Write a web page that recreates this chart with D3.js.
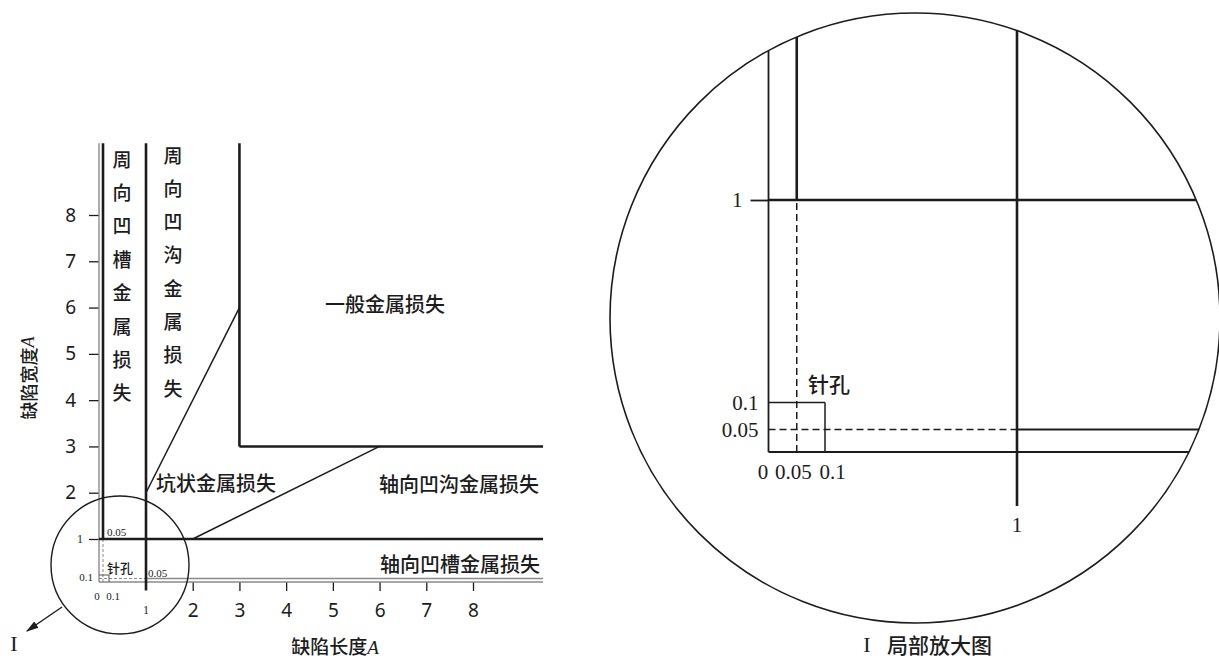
<!DOCTYPE html>
<html>
<head>
<meta charset="utf-8">
<script src="https://d3js.org/d3.v7.min.js"></script>
<style>
  body { margin: 0; background: #fff; }
  text { fill: #1c1c1c; }
  .cjk { font-family: "Noto Sans CJK SC", sans-serif; font-weight: 500; }
  .ser { font-family: "Liberation Serif", serif; }
  .sans { font-family: "Noto Sans", sans-serif; }
</style>
</head>
<body>
<svg id="vis" width="1219" height="660"></svg>
<script>
// defect size classes, lengths and widths in units of A
var xTicks = [2, 3, 4, 5, 6, 7, 8];
var yTicks = [1, 2, 3, 4, 5, 6, 7, 8];
var regionNames = ["周向凹槽金属损失", "周向凹沟金属损失", "一般金属损失",
                   "坑状金属损失", "轴向凹沟金属损失", "轴向凹槽金属损失"];
var pinName = "针孔";
var zoomTicksX = [0, 0.05, 0.1];
var zoomTicksY = [0.05, 0.1];

// boundary segments [x1, y1, x2, y2]; null = runs to the edge of the view
var heavyLines = [[0.05, 1, 0.05, null], [1, -0.12, 1, null], [0, 1, null, 1],
                  [3, 3, 3, null], [3, 3, null, 3]];
var slopeLines = [[1, 2, 3, 6], [2, 1, 6, 3]];
var axisLines = [[0, 0, 0, null], [0, 0, null, 0], [1, 0.05, null, 0.05]];
var dashLines = [[0.05, 0, 0.05, 1], [0, 0.05, 1, 0.05]];
var pinBox = [[0, 0.1, 0.1, 0.1], [0.1, 0, 0.1, 0.1]];

var svg = d3.select("#vis");

var defs = svg.append("defs");
defs.append("marker")
    .attr("id", "arrow")
    .attr("viewBox", "0 0 10 10")
    .attr("refX", 9).attr("refY", 5)
    .attr("markerWidth", 9).attr("markerHeight", 9)
    .attr("orient", "auto")
  .append("path")
    .attr("d", "M0,2 L10,5 L0,8 Z")
    .attr("fill", "#1c1c1c");

function drawSegs(g, segs, x, y, lim, stroke, width, dash) {
  g.selectAll(null)
    .data(segs)
    .enter().append("line")
      .attr("x1", d => x(d[0]))
      .attr("y1", d => y(d[1]))
      .attr("x2", d => x(d[2] == null ? lim[0] : d[2]))
      .attr("y2", d => y(d[3] == null ? lim[1] : d[3]))
      .attr("stroke", stroke)
      .attr("stroke-width", width)
      .attr("stroke-dasharray", dash);
}

// ---------- main chart ----------
var x = d3.scaleLinear().domain([0, 0.05, 0.1, 1, 8]).range([99, 103, 109, 146, 473]);
var y = d3.scaleLinear().domain([0, 0.05, 0.1, 1, 8]).range([582, 578.5, 575, 539, 215]);
var lim = [9.5, 9.55];

var main = svg.append("g");

var yAx = main.append("g")
    .attr("transform", "translate(" + x(0) + ",0)")
    .call(d3.axisLeft(y).tickValues(yTicks).tickSize(10).tickPadding(13).tickFormat(d3.format("d")));
yAx.select(".domain").remove();
yAx.selectAll("line").attr("stroke", "#1c1c1c").attr("stroke-width", 1.3);
yAx.selectAll("text").attr("class", "sans").attr("font-size", 19).attr("fill", "#1c1c1c");
yAx.selectAll("text").filter(d => d === 1).attr("class", "ser").attr("font-size", 12).attr("x", -16);

var xAx = main.append("g")
    .attr("transform", "translate(0," + y(0) + ")")
    .call(d3.axisBottom(x).tickValues(xTicks).tickSize(9).tickPadding(13).tickFormat(d3.format("d")));
xAx.select(".domain").remove();
xAx.selectAll("line").attr("stroke", "#1c1c1c").attr("stroke-width", 1.3);
xAx.selectAll("text").attr("class", "sans").attr("font-size", 19).attr("fill", "#1c1c1c");

drawSegs(main, axisLines, x, y, lim, "#8a8a8a", 1.4, null);
drawSegs(main, dashLines, x, y, lim, "#8a8a8a", 1, "3,2");
drawSegs(main, pinBox, x, y, lim, "#555", 1, null);
drawSegs(main, heavyLines, x, y, lim, "#1c1c1c", 2.6, null);
drawSegs(main, slopeLines, x, y, lim, "#1c1c1c", 1.5, null);

function vText(g, str, cx, top, step, size) {
  g.selectAll(null)
    .data(str.split(""))
    .enter().append("text")
      .attr("class", "cjk")
      .attr("x", cx)
      .attr("y", (d, i) => top + i * step)
      .attr("text-anchor", "middle")
      .attr("dominant-baseline", "central")
      .attr("font-size", size)
      .text(d => d);
}
vText(main, regionNames[0], 122, 158, 33.4, 19);
vText(main, regionNames[1], 173, 154, 33.3, 19);

function label(g, txt, px, py, anchor, size, cls) {
  return g.append("text")
    .attr("class", cls)
    .attr("x", px).attr("y", py)
    .attr("text-anchor", anchor)
    .attr("dominant-baseline", "central")
    .attr("font-size", size)
    .text(txt);
}
label(main, regionNames[2], 385, 303, "middle", 20, "cjk");
label(main, regionNames[3], 156, 482, "start", 20, "cjk");
label(main, regionNames[4], 539, 483, "end", 20, "cjk");
label(main, regionNames[5], 540, 563, "end", 20, "cjk");

// small labels inside the magnified corner
label(main, "0.05", 107, 532, "start", 11, "ser");
label(main, pinName, 107, 567, "start", 13, "cjk");
label(main, "0.05", 148, 573, "start", 11, "ser");
label(main, "0.1", 93, 577, "end", 11, "ser");
label(main, "0", x(0) - 2, 596, "middle", 11, "ser");
label(main, "0.1", x(0.1) + 4, 596, "middle", 11, "ser");
label(main, "1", x(1), 610, "middle", 12, "ser");

// axis titles
main.append("text")
    .attr("class", "cjk")
    .attr("transform", "translate(28,378) rotate(-90)")
    .attr("text-anchor", "middle")
    .attr("dominant-baseline", "central")
    .attr("font-size", 18)
    .html('缺陷宽度<tspan font-family="Liberation Serif" font-style="italic">A</tspan>');
main.append("text")
    .attr("class", "cjk")
    .attr("x", 335).attr("y", 654)
    .attr("text-anchor", "middle")
    .attr("font-size", 19)
    .html('缺陷长度<tspan font-family="Liberation Serif" font-style="italic">A</tspan>');

// magnifier marker
main.append("circle")
    .attr("cx", 120).attr("cy", 565).attr("r", 69)
    .attr("fill", "none").attr("stroke", "#1c1c1c").attr("stroke-width", 1.4);
main.append("line")
    .attr("x1", 62).attr("y1", 607).attr("x2", 27).attr("y2", 631)
    .attr("stroke", "#1c1c1c").attr("stroke-width", 1.4)
    .attr("marker-end", "url(#arrow)");
label(main, "I", 14, 643, "middle", 22, "ser");

// ---------- magnified view ----------
var zx = d3.scaleLinear().domain([0, 0.1, 1]).range([768.5, 825, 1017]);
var zy = d3.scaleLinear().domain([0, 0.05, 0.1, 1]).range([452, 429.5, 402.5, 200]);
var zlim = [2, 2];
var cx = 915, cy = 318, cr = 305;

defs.append("clipPath").attr("id", "lens")
  .append("circle").attr("cx", cx).attr("cy", cy).attr("r", cr);

var zoomG = svg.append("g");
var inner = zoomG.append("g").attr("clip-path", "url(#lens)");

drawSegs(inner, axisLines, zx, zy, zlim, "#1c1c1c", 1.8, null);
drawSegs(inner, dashLines, zx, zy, zlim, "#1c1c1c", 1.5, "7,4");
drawSegs(inner, pinBox, zx, zy, zlim, "#1c1c1c", 1.5, null);
drawSegs(inner, heavyLines, zx, zy, zlim, "#1c1c1c", 2.6, null);

zoomG.append("circle")
    .attr("cx", cx).attr("cy", cy).attr("r", cr)
    .attr("fill", "none").attr("stroke", "#1c1c1c").attr("stroke-width", 1.6);

var zyAx = zoomG.append("g")
    .attr("transform", "translate(" + zx(0) + ",0)")
    .call(d3.axisLeft(zy).tickValues([1]).tickSize(18).tickPadding(8).tickFormat(d3.format("d")));
zyAx.select(".domain").remove();
zyAx.selectAll("line").attr("stroke", "#1c1c1c").attr("stroke-width", 1.8);
zyAx.selectAll("text").attr("class", "ser").attr("font-size", 21).attr("fill", "#1c1c1c");

var zyAx2 = zoomG.append("g")
    .attr("transform", "translate(" + zx(0) + ",0)")
    .call(d3.axisLeft(zy).tickValues(zoomTicksY).tickSize(0).tickPadding(10).tickFormat(d => String(d)));
zyAx2.select(".domain").remove();
zyAx2.selectAll("text").attr("class", "ser").attr("font-size", 21).attr("fill", "#1c1c1c");

var nudge = [-6, -4, 7];
var zxAx = zoomG.append("g")
    .attr("transform", "translate(0," + zy(0) + ")")
    .call(d3.axisBottom(zx).tickValues(zoomTicksX).tickSize(0).tickPadding(12).tickFormat(d => String(d)));
zxAx.select(".domain").remove();
zxAx.selectAll("text").attr("class", "ser").attr("font-size", 21).attr("fill", "#1c1c1c")
    .attr("dx", (d, i) => nudge[i]);

label(zoomG, "1", zx(1), 525, "middle", 21, "ser");
label(zoomG, pinName, 808, 383, "start", 21, "cjk");

label(zoomG, "I", 867, 644, "middle", 22, "ser");
label(zoomG, "局部放大图", 887, 644, "start", 21, "cjk");
</script>
</body>
</html>
